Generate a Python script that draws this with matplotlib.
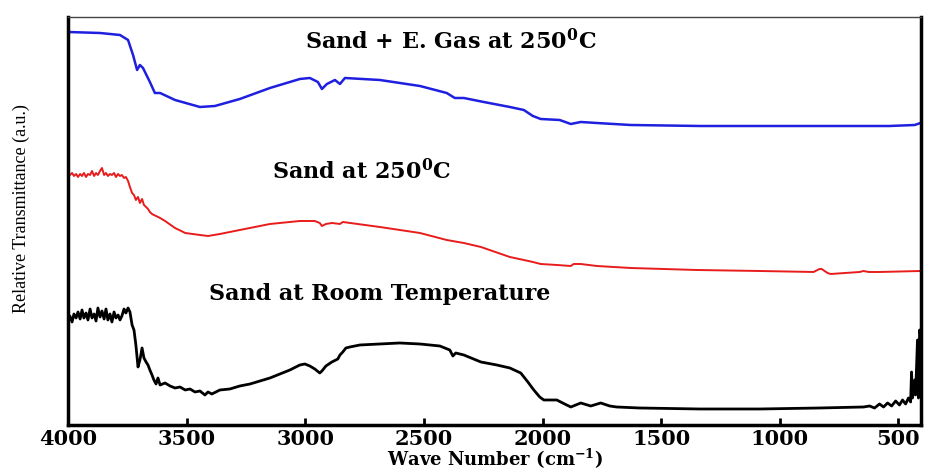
#!/usr/bin/env python3
import matplotlib
matplotlib.use('Agg')
import matplotlib.pyplot as plt

# FTIR spectra (wave number in cm-1, transmittance in a.u.)
blue_wn = [4000, 3865, 3781, 3747, 3726, 3709, 3697, 3684, 3655, 3634, 3612, 3549, 3444,
           3381, 3276, 3149, 3023, 2981, 2947, 2930, 2909, 2875, 2854, 2833, 2686, 2517,
           2404, 2370, 2332, 2248, 2138, 2079, 2041, 2008, 1928, 1881, 1839, 1772, 1629,
           1338, 917, 538, 432, 407]
blue_t = [393, 392, 390, 385, 370, 355, 360, 357, 343, 332, 332, 325, 318,
          319, 326, 337, 346, 347, 343, 336, 341, 345, 341, 347, 345, 339,
          332, 327, 327, 323, 318, 315, 309, 306, 305, 301, 303, 302, 300,
          299, 299, 299, 300, 302]

red_wn = [4000, 3992, 3983, 3975, 3966, 3958, 3949, 3941, 3933, 3924, 3916, 3907, 3899,
          3890, 3882, 3874, 3865, 3857, 3848, 3840, 3832, 3823, 3815, 3806, 3798, 3789,
          3781, 3773, 3764, 3756, 3747, 3739, 3730, 3722, 3714, 3705, 3697, 3688, 3680,
          3671, 3663, 3655, 3646, 3638, 3629, 3612, 3591, 3549, 3506, 3444, 3410, 3360,
          3276, 3149, 3023, 2960, 2939, 2930, 2913, 2888, 2854, 2842, 2686, 2517, 2404,
          2332, 2260, 2138, 2079, 2041, 2008, 1940, 1881, 1869, 1839, 1772, 1629, 1351,
          1085, 858, 833, 824, 799, 786, 664, 647, 626, 601, 580, 407]
red_t = [252, 250, 252, 249, 251, 248, 251, 249, 252, 248, 251, 250, 254,
         249, 252, 250, 254, 257, 250, 252, 249, 251, 250, 252, 248, 251,
         249, 250, 247, 248, 244, 238, 232, 230, 225, 228, 222, 226, 220,
         218, 216, 213, 211, 210, 209, 207, 204, 197, 192, 190, 189, 191,
         195, 201, 204, 204, 202, 199, 201, 202, 201, 203, 198, 192, 185,
         182, 178, 168, 165, 163, 161, 160, 159, 161, 161, 159, 157, 155,
         154, 153, 156, 156, 152, 151, 153, 154, 153, 153, 153, 154]

black_wn = [4000, 3992, 3983, 3975, 3966, 3958, 3949, 3941, 3933, 3924, 3916, 3907, 3899,
            3890, 3882, 3874, 3865, 3857, 3848, 3840, 3832, 3823, 3815, 3806, 3798, 3789,
            3781, 3773, 3764, 3756, 3747, 3739, 3730, 3722, 3714, 3705, 3697, 3688, 3680,
            3671, 3663, 3655, 3646, 3638, 3629, 3621, 3612, 3591, 3570, 3549, 3528, 3506,
            3486, 3465, 3444, 3423, 3410, 3394, 3360, 3318, 3276, 3233, 3191, 3149, 3107,
            3065, 3023, 3002, 2981, 2960, 2939, 2930, 2913, 2888, 2863, 2854, 2842, 2829,
            2812, 2770, 2686, 2602, 2517, 2433, 2391, 2378, 2366, 2332, 2260, 2193, 2138,
            2092, 2062, 2037, 2012, 1995, 1940, 1907, 1881, 1839, 1797, 1755, 1717, 1688,
            1591, 1338, 1085, 833, 647, 622, 601, 580, 563, 546, 529, 512, 496, 483, 470,
            458, 449, 445, 441, 432, 428, 420, 416, 411, 407]
black_t = [105, 109, 103, 111, 107, 113, 106, 115, 107, 112, 105, 116, 107,
           111, 104, 117, 108, 114, 106, 116, 105, 111, 103, 113, 107, 110,
           105, 109, 116, 112, 117, 113, 100, 95, 80, 58, 65, 77, 67,
           63, 60, 55, 50, 45, 41, 47, 40, 42, 39, 37, 38, 35,
           36, 33, 34, 30, 33, 31, 35, 36, 39, 41, 44, 47, 51,
           55, 60, 61, 59, 56, 52, 54, 59, 63, 66, 70, 73, 77,
           78, 80, 81, 82, 81, 79, 75, 69, 72, 70, 63, 60, 57,
           52, 43, 35, 28, 25, 25, 21, 18, 22, 19, 22, 19, 18,
           17, 16, 16, 17, 18, 19, 17, 21, 18, 22, 19, 24, 20, 25, 21,
           27, 23, 53, 27, 45, 30, 85, 27, 95, 90]

labels = ['Sand + E. Gas at 250$^{\\mathbf{0}}$C',
          'Sand at 250$^{\\mathbf{0}}$C',
          'Sand at Room Temperature']
xticks = [4000, 3500, 3000, 2500, 2000, 1500, 1000, 500]

plt.rcParams['mathtext.fontset'] = 'dejavuserif'

fig = plt.figure(figsize=(9.28, 4.72), dpi=100)
ax = fig.add_axes([0.0733, 0.0996, 0.9192, 0.8644])

ax.plot(blue_wn, blue_t, color='#1f1fe0', lw=1.8)
ax.plot(red_wn, red_t, color='#e81c1c', lw=1.4)
ax.plot(black_wn, black_t, color='black', lw=2.0)

ax.set_xlim(4000, 405)
ax.set_ylim(0, 408)

txt = dict(family='DejaVu Serif', fontweight='bold', fontsize=16, ha='center', va='center')
ax.text(2387, 383, labels[0], **txt)
ax.text(2762, 253, labels[1], **txt)
ax.text(2686, 131, labels[2], **txt)

ax.set_xticks(xticks)
ax.set_xticklabels([str(t) for t in xticks], family='DejaVu Serif', fontweight='bold', fontsize=15)
ax.tick_params(axis='x', direction='in', length=5, width=2, pad=3)
ax.set_yticks([])

ax.set_xlabel('Wave Number (cm$^{\\mathbf{-1}}$)', family='DejaVu Serif', fontweight='bold',
              fontsize=13)
ax.xaxis.set_label_coords(0.5, -0.055)
ax.set_ylabel('Relative Transmittance (a.u.)', family='Liberation Serif', fontsize=13)
ax.yaxis.set_label_coords(-0.045, 0.53)

for s in ['left', 'bottom', 'right']:
    ax.spines[s].set_linewidth(2.5)
ax.spines['top'].set_linewidth(1.0)
ax.spines['top'].set_color('#444444')

fig.savefig('out.png', dpi=100)
